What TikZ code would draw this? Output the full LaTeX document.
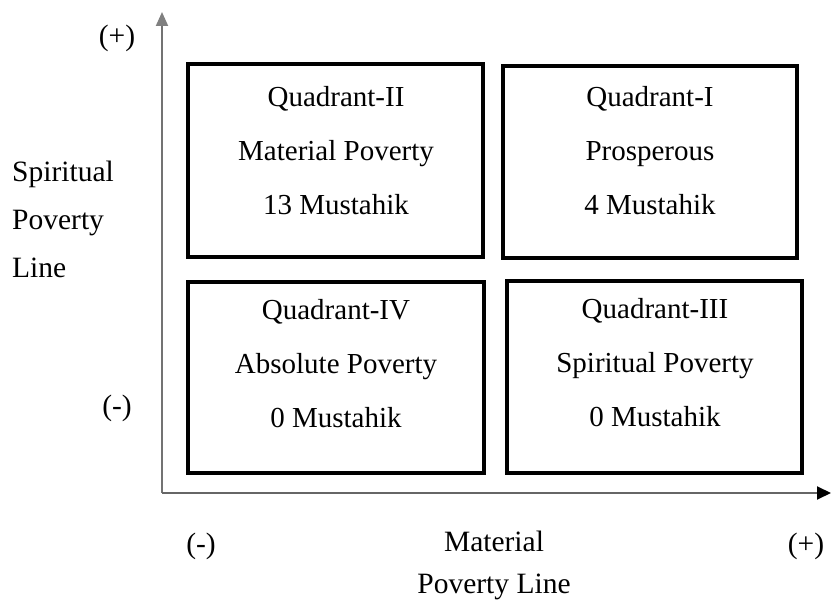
\documentclass[tikz,border=0pt]{standalone}
\usepackage{fontspec}
\setmainfont{Liberation Serif}
\usetikzlibrary{arrows.meta}
\begin{document}
\begin{tikzpicture}[x=1pt,y=-1pt,
  quadbox/.style={draw=black,line width=3.8pt,inner sep=0pt},
  quadtext/.style={align=center,font=\fontsize{29}{54}\selectfont},
  axislabel/.style={font=\fontsize{29.5}{48}\selectfont,inner sep=0pt}]
\useasboundingbox (0,0) rectangle (831,601);

% axes
\coordinate (origin) at (162,493);
\coordinate (ytip) at (162,12);
\coordinate (xtip) at (831,493);
\draw[line width=2pt,draw=black!55,-{Triangle[length=14pt,width=12pt,color=black!50]}] (origin) -- (ytip);
\draw[line width=2pt,draw=black!60,-{Triangle[length=14pt,width=13pt,color=black]}] (origin) -- (xtip);

% quadrant boxes
\node[quadbox,minimum width=295pt,minimum height=193pt] (q2) at (335.5,160.5) {};
\node[quadbox,minimum width=294pt,minimum height=192pt] (q1) at (650,162) {};
\node[quadbox,minimum width=296pt,minimum height=191pt] (q4) at (336,377.5) {};
\node[quadbox,minimum width=295pt,minimum height=192pt] (q3) at (654.5,377) {};

\node[quadtext] (t2) at (336,151) {Quadrant-II\\Material Poverty\\13 Mustahik};
\node[quadtext] (t1) at (650,151) {Quadrant-I\\Prosperous\\4 Mustahik};
\node[quadtext] (t4) at (336,364) {Quadrant-IV\\Absolute Poverty\\0 Mustahik};
\node[quadtext] (t3) at (655,363) {Quadrant-III\\Spiritual Poverty\\0 Mustahik};

% axis labels
\node[axislabel] (yplus) at (117,38) {(+)};
\node[axislabel] (yminus) at (117,408) {(-)};
\node[axislabel,align=left,anchor=west] (ytitle) at (12,219) {Spiritual\\Poverty\\Line};
\node[axislabel] (xminus) at (201,546) {(-)};
\node[axislabel] (xplus) at (806,546) {(+)};
\node[axislabel,align=center,font=\fontsize{29.5}{42}\selectfont] (xtitle) at (494,565) {Material\\Poverty Line};
\end{tikzpicture}
\end{document}
